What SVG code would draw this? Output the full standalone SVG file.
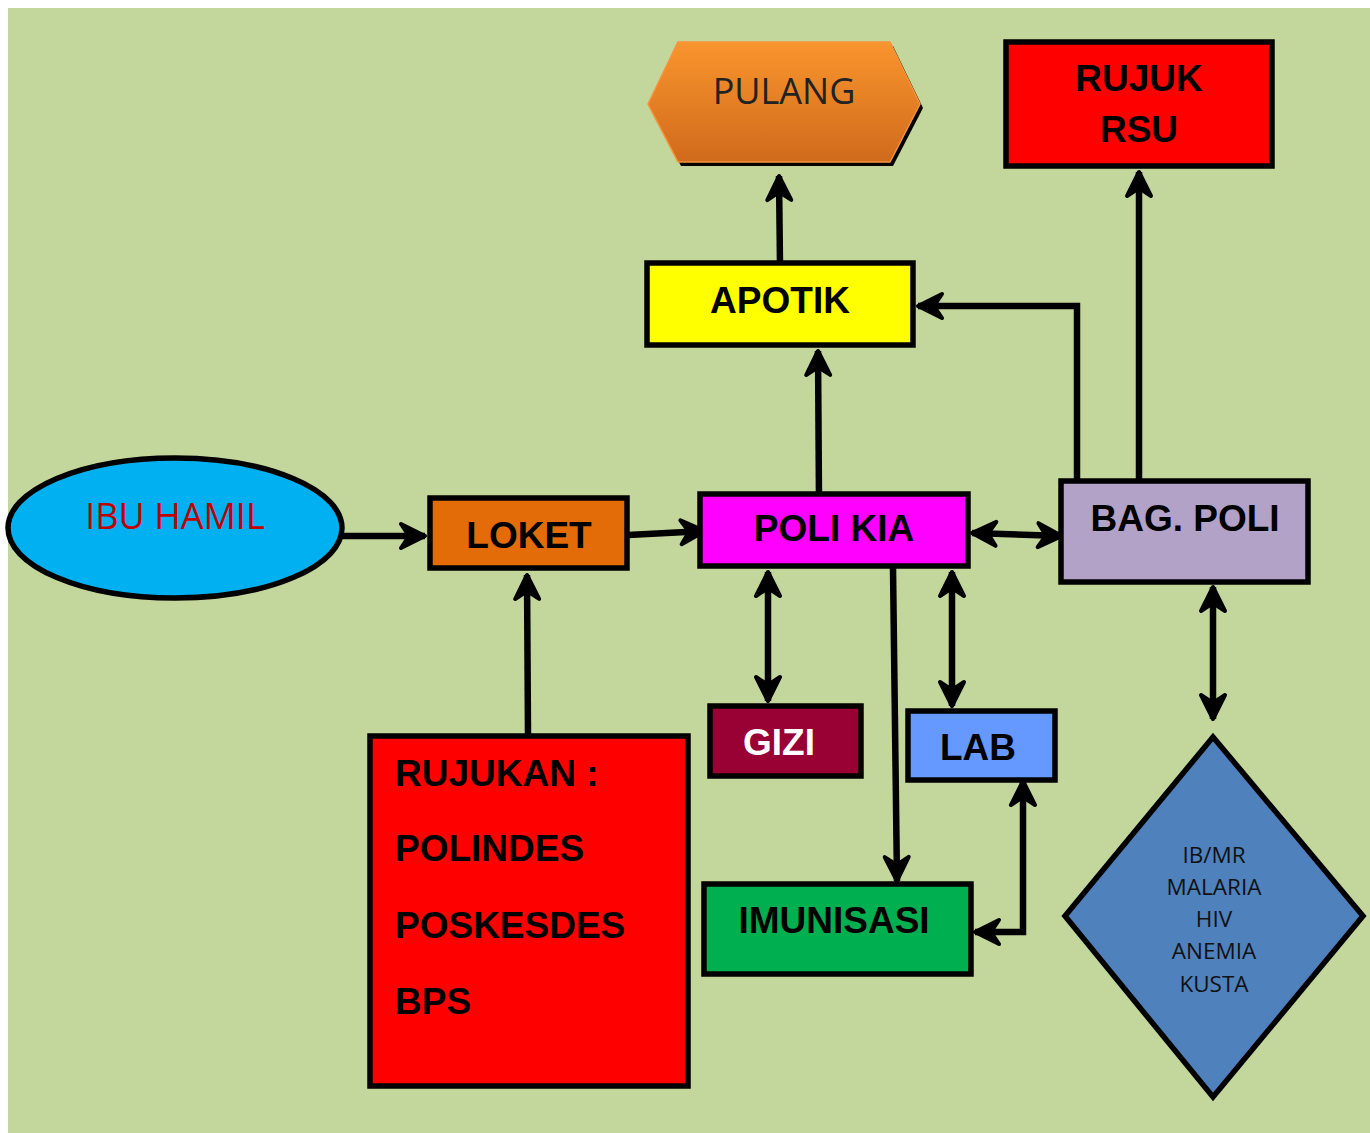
<svg xmlns="http://www.w3.org/2000/svg" width="1370" height="1133" viewBox="0 0 1370 1133">
<defs>
<linearGradient id="og" x1="0" y1="0" x2="0" y2="1">
<stop offset="0" stop-color="#F9952D"/>
<stop offset="1" stop-color="#D06A1C"/>
</linearGradient>
<marker id="ah" viewBox="-30 -17 34 34" refX="0" refY="0" markerWidth="34" markerHeight="34" markerUnits="userSpaceOnUse" orient="auto-start-reverse">
<path d="M0,0 L-24,-12 L-16,0 L-24,12 Z" fill="#000" stroke="#000" stroke-width="4" stroke-linejoin="round"/>
</marker>
<style>
.box{stroke:#000;stroke-width:5.5}
.b{font-family:"Liberation Sans",Arial,sans-serif;font-weight:bold;font-size:37px;fill:#000}
.c{font-family:"Open Sans","Noto Sans",sans-serif}
.ln{fill:none;stroke:#000;stroke-width:6.5}
.one{marker-end:url(#ah)}
.two{marker-start:url(#ah);marker-end:url(#ah)}
</style>
</defs>
<rect x="0" y="0" width="1370" height="1133" fill="#fff"/>
<rect x="8" y="8" width="1362" height="1125" fill="#C3D69B"/>

<g id="connectors">
<line class="ln one" x1="342" y1="536" x2="425" y2="536"/>
<line class="ln one" x1="628" y1="535" x2="705" y2="531"/>
<line class="ln one" x1="528" y1="736" x2="527" y2="575"/>
<line class="ln one" x1="819" y1="501" x2="818" y2="351"/>
<line class="ln one" x1="780" y1="265" x2="779" y2="176"/>
<polyline class="ln one" points="1077,484 1077,306 918,306"/>
<line class="ln one" x1="1139" y1="482" x2="1139" y2="172"/>
<line class="ln two" x1="972" y1="533" x2="1062" y2="536"/>
<line class="ln two" x1="768" y1="572" x2="768" y2="701"/>
<line class="ln two" x1="952" y1="572" x2="952" y2="706"/>
<line class="ln one" x1="893" y1="568" x2="897" y2="881"/>
<polyline class="ln two" points="1023,781 1023,932 975,932"/>
<line class="ln two" x1="1213" y1="587" x2="1213" y2="719"/>
</g>

<g id="ibu-hamil">
<ellipse cx="175" cy="528" rx="167" ry="70" fill="#00B0F0" stroke="#000" stroke-width="5.5"/>
<text x="175" y="529" class="c" font-size="36" fill="#C00000" text-anchor="middle">IBU HAMIL</text>
</g>

<g id="loket">
<rect class="box" x="430" y="498" width="197" height="70" fill="#E36C09"/>
<text class="b" x="529" y="548" text-anchor="middle">LOKET</text>
</g>

<g id="poli-kia">
<rect class="box" x="700" y="494" width="268" height="72" fill="#FF00FF"/>
<text class="b" x="834" y="541" text-anchor="middle">POLI KIA</text>
</g>

<g id="bag-poli">
<rect class="box" x="1061" y="481" width="247" height="101" fill="#B2A2C7"/>
<text class="b" x="1185" y="531" text-anchor="middle">BAG. POLI</text>
</g>

<g id="apotik">
<rect class="box" x="647" y="263" width="266" height="82" fill="#FFFF00"/>
<text class="b" x="780" y="313" text-anchor="middle">APOTIK</text>
</g>

<g id="pulang">
<polygon points="651,108 681,46 893,46 923,108 893,166 681,166" fill="#000"/>
<polygon points="648,104 678,42 890,42 920,104 890,162 678,162" fill="url(#og)" stroke="#F7923A" stroke-width="1.5"/>
<text x="784" y="104" class="c" font-size="36" fill="#222" text-anchor="middle">PULANG</text>
</g>

<g id="rujuk-rsu">
<rect class="box" x="1006" y="42" width="266" height="124" fill="#FF0000"/>
<text class="b" x="1139" y="91" text-anchor="middle">RUJUK</text>
<text class="b" x="1139" y="142" text-anchor="middle">RSU</text>
</g>

<g id="gizi">
<rect class="box" x="710" y="706" width="151" height="70" fill="#990033"/>
<text class="b" x="779" y="755" text-anchor="middle" style="fill:#fff">GIZI</text>
</g>

<g id="lab">
<rect class="box" x="908" y="711" width="147" height="69" fill="#6699FF"/>
<text class="b" x="978" y="760" text-anchor="middle">LAB</text>
</g>

<g id="imunisasi">
<rect class="box" x="704" y="884" width="267" height="90" fill="#00B050"/>
<text class="b" x="834" y="933" text-anchor="middle">IMUNISASI</text>
</g>

<g id="rujukan">
<rect class="box" x="370" y="736" width="318" height="350" fill="#FF0000"/>
<text class="b" x="395" y="786">RUJUKAN :</text>
<text class="b" x="395" y="861">POLINDES</text>
<text class="b" x="395" y="938">POSKESDES</text>
<text class="b" x="395" y="1014">BPS</text>
</g>

<g id="penyakit">
<polygon points="1213,737 1363,916 1213,1097 1065,916" fill="#4F81BD" stroke="#000" stroke-width="5.5"/>
<g class="c" font-size="22.5" fill="#111" text-anchor="middle">
<text x="1214" y="863">IB/MR</text>
<text x="1214" y="895">MALARIA</text>
<text x="1214" y="927">HIV</text>
<text x="1214" y="959">ANEMIA</text>
<text x="1214" y="992">KUSTA</text>
</g>
</g>
</svg>
